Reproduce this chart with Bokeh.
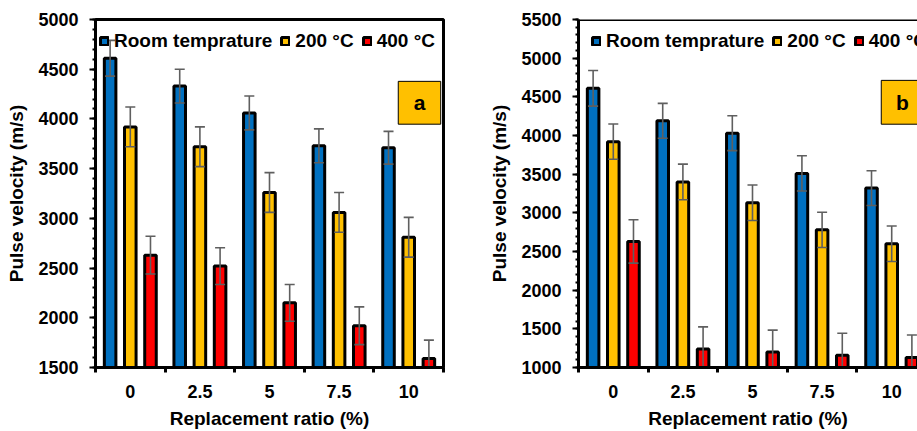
from bokeh.plotting import figure
from bokeh.models import Range1d, FixedTicker, Legend, LegendItem, Span
from bokeh.layouts import row
from bokeh.embed import file_html
from bokeh.resources import INLINE
from bokeh.core.properties import value

# ---------------- data ----------------
ratios = ["0", "2.5", "5", "7.5", "10"]
series = ["Room temprature", "200 °C", "400 °C"]
colors = ["#0070C0", "#FFC000", "#FF0000"]

a_room = [4610, 4330, 4060, 3730, 3710]
a_room_err = [180, 170, 170, 170, 165]
a_200 = [3920, 3720, 3260, 3060, 2810]
a_200_err = [200, 200, 200, 200, 200]
a_400 = [2630, 2520, 2150, 1920, 1590]
a_400_err = [190, 185, 185, 190, 185]

b_room = [4610, 4190, 4030, 3510, 3320]
b_room_err = [230, 225, 225, 228, 225]
b_200 = [3920, 3400, 3130, 2780, 2600]
b_200_err = [228, 230, 230, 228, 230]
b_400 = [2630, 1240, 1200, 1160, 1130]
b_400_err = [280, 285, 283, 283, 290]

y_a_ticks = list(range(1500, 5001, 500))
y_b_ticks = list(range(1000, 5501, 500))

FONT = "Liberation Sans"
OFFSETS = [-0.29, 0.0, 0.29]
BAR_W = 0.166
CAP = 0.072
ERR_COLOR = "#5f5f5f"


def make_panel(vals, errs, y0, y1, yticks, letter, box_y, legend_x, width,
               border_left, border_right, x_end, full_outline):
    p = figure(width=width, height=431, output_backend="svg", toolbar_location=None,
               x_range=Range1d(0, x_end), y_range=Range1d(y0, y1),
               min_border_left=border_left, min_border_right=border_right,
               min_border_top=19, min_border_bottom=63)
    p.xgrid.visible = False
    p.ygrid.visible = False
    p.background_fill_color = "white"
    p.border_fill_color = "white"
    if full_outline:
        p.outline_line_color = "black"
        p.outline_line_width = 3
    else:
        p.outline_line_color = None
        p.add_layout(Span(location=y1, dimension="width", line_color="black", line_width=3))

    renderers = []
    for k in range(3):
        xs = [i + 0.5 + OFFSETS[k] for i in range(len(ratios))]
        r = p.vbar(x=xs, top=vals[k], bottom=y0, width=BAR_W,
                   fill_color=colors[k], line_color="black", line_width=3)
        renderers.append(r)
    for k in range(3):
        xs = [i + 0.5 + OFFSETS[k] for i in range(len(ratios))]
        lo = [v - e for v, e in zip(vals[k], errs[k])]
        hi = [v + e for v, e in zip(vals[k], errs[k])]
        p.segment(x0=xs, y0=lo, x1=xs, y1=hi, line_color=ERR_COLOR, line_width=1.6)
        p.segment(x0=[x - CAP for x in xs], y0=hi, x1=[x + CAP for x in xs], y1=hi,
                  line_color=ERR_COLOR, line_width=1.6)
        p.segment(x0=[x - CAP for x in xs], y0=lo, x1=[x + CAP for x in xs], y1=lo,
                  line_color=ERR_COLOR, line_width=1.6)

    # letter box
    p.quad(left=[4.35], right=[4.96], bottom=[box_y[0]], top=[box_y[1]],
           fill_color="#FFC000", line_color="black", line_width=1)
    p.text(x=[4.655], y=[(box_y[0] + box_y[1]) / 2], text=[letter],
           text_font=value(FONT), text_font_style="bold", text_font_size="21px",
           text_align="center", text_baseline="middle", text_color="black")

    # x axis
    xa = p.xaxis[0]
    xa.ticker = FixedTicker(ticks=[i + 0.5 for i in range(len(ratios))],
                            minor_ticks=list(range(len(ratios) + 1)))
    xa.major_label_overrides = {i + 0.5: lab for i, lab in enumerate(ratios)}
    xa.major_tick_line_color = None
    xa.major_tick_out = 0
    xa.major_tick_in = 0
    xa.minor_tick_line_color = "black"
    xa.minor_tick_line_width = 3
    xa.minor_tick_out = 5
    xa.minor_tick_in = 0
    xa.axis_line_color = "black"
    xa.axis_line_width = 3
    xa.major_label_standoff = 12
    xa.major_label_text_font = FONT
    xa.major_label_text_font_style = "bold"
    xa.major_label_text_font_size = "18px"
    xa.major_label_text_color = "black"
    xa.axis_label = "Replacement ratio (%)"
    xa.axis_label_standoff = 7
    xa.axis_label_text_font = FONT
    xa.axis_label_text_font_style = "bold"
    xa.axis_label_text_font_size = "19px"
    xa.axis_label_text_color = "black"

    # y axis
    ya = p.yaxis[0]
    ya.ticker = FixedTicker(ticks=yticks, minor_ticks=list(range(y0, y1 + 1, 100)))
    ya.axis_line_color = "black"
    ya.axis_line_width = 3
    ya.major_tick_line_color = "black"
    ya.major_tick_line_width = 2
    ya.major_tick_out = 6
    ya.major_tick_in = 0
    ya.minor_tick_line_color = "black"
    ya.minor_tick_line_width = 2
    ya.minor_tick_out = 3
    ya.minor_tick_in = 0
    ya.major_label_standoff = 11
    ya.major_label_text_font = FONT
    ya.major_label_text_font_style = "bold"
    ya.major_label_text_font_size = "18px"
    ya.major_label_text_color = "black"
    ya.axis_label = "Pulse velocity (m/s)"
    ya.axis_label_standoff = 8
    ya.axis_label_text_font = FONT
    ya.axis_label_text_font_style = "bold"
    ya.axis_label_text_font_size = "19px"
    ya.axis_label_text_color = "black"

    legend = Legend(items=[LegendItem(label=series[k], renderers=[renderers[k]]) for k in range(3)],
                    location=(legend_x, 315), orientation="horizontal",
                    label_text_font=FONT, label_text_font_style="bold",
                    label_text_font_size="19px", label_text_color="black",
                    glyph_width=10, glyph_height=10, label_standoff=5, spacing=8,
                    padding=0, margin=0, border_line_alpha=0, background_fill_alpha=0)
    p.add_layout(legend)
    return p


pa = make_panel([a_room, a_200, a_400], [a_room_err, a_200_err, a_400_err],
                1500, 5000, y_a_ticks, "a", (3947, 4378), 4, 463, 95, 20, 5, True)
pb = make_panel([b_room, b_200, b_400], [b_room_err, b_200_err, b_400_err],
                1000, 5500, y_b_ticks, "b", (4146, 4713), 13, 454, 115, 0, 339 / 69.6, False)

layout = row(pa, pb)
open("out.html", "w").write(file_html(layout, INLINE))
